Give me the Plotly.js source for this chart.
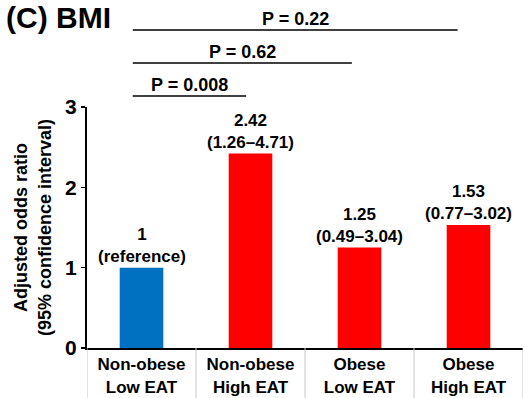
<!DOCTYPE html>
<html><head><meta charset="utf-8">
<script src="https://cdn.plot.ly/plotly-3.0.1.min.js"></script>
<style>body{margin:0;background:#fff}#c{width:524px;height:398px}</style>
</head><body><div id="c"></div>
<script>
const categories = ["Non-obese<br>Low EAT", "Non-obese<br>High EAT", "Obese<br>Low EAT", "Obese<br>High EAT"];
const oddsRatios = [1, 2.42, 1.25, 1.53];
const barLabels = ["1<br>(reference)", "2.42<br>(1.26–4.71)", "1.25<br>(0.49–3.04)", "1.53<br>(0.77–3.02)"];
const barColors = ["#0070C0", "#FF0000", "#FF0000", "#FF0000"];
const pLabels = ["P = 0.008", "P = 0.62", "P = 0.22"];
const pEnds = [0.96, 1.93, 2.9];
const pLevels = [1.0456, 1.1826, 1.3195];
const yTicks = [0, 1, 2, 3];

const F = "Arial, 'Liberation Sans', sans-serif";
const idx = categories.map((_, i) => i);

const shapes = [];
const annotations = [];
pLabels.forEach((t, i) => {
  shapes.push({type: "line", xref: "x", yref: "paper", x0: -0.08, x1: pEnds[i], y0: pLevels[i], y1: pLevels[i],
    line: {color: "#000", width: 1.3}});
  annotations.push({xref: "x", yref: "paper", x: (-0.08 + pEnds[i]) / 2, y: pLevels[i], yanchor: "bottom", yshift: -1,
    text: "<b>" + t + "</b>", showarrow: false, font: {family: F, size: 18, color: "#000"}});
});
for (let k = 0; k <= categories.length; k++) {
  shapes.push({type: "line", xref: "x", yref: "paper", x0: k - 0.5, x1: k - 0.5, y0: 0, y1: -0.21,
    line: {color: "#c8c8c8", width: 1}});
}
idx.forEach(i => {
  annotations.push({xref: "x", yref: "y", x: i, y: oddsRatios[i], yanchor: "bottom", yshift: 0,
    text: "<b>" + barLabels[i] + "</b>", showarrow: false, font: {family: F, size: 17, color: "#000"}});
});
annotations.push({xref: "paper", yref: "paper", x: -0.19, xanchor: "left", y: 1.37, yanchor: "middle",
  text: "<b>(C) BMI</b>", showarrow: false, font: {family: F, size: 30, color: "#000"}});

Plotly.newPlot("c", [{
  type: "bar", x: idx, y: oddsRatios, width: 0.4,
  marker: {color: barColors, line: {width: 0}}, hoverinfo: "none"
}], {
  width: 524, height: 398,
  margin: {l: 87, r: 1, t: 107, b: 50},
  paper_bgcolor: "#fff", plot_bgcolor: "#fff",
  showlegend: false,
  font: {family: F, color: "#000"},
  xaxis: {
    range: [-0.5, 3.5], tickvals: idx, ticktext: categories.map(c => "<b>" + c.replace("<br>", "</b><br><b>") + "</b>"),
    showline: true, linecolor: "#000", linewidth: 2, ticks: "", showgrid: false, zeroline: false,
    tickfont: {family: F, size: 17, color: "#000"}, fixedrange: true
  },
  yaxis: {
    range: [0, 3], tickvals: yTicks, ticktext: yTicks.map(v => "<b>" + v + "</b>"),
    showline: true, linecolor: "#000", linewidth: 2, ticks: "outside", ticklen: 4, tickwidth: 1.5, tickcolor: "#000",
    showgrid: false, zeroline: false, tickfont: {family: F, size: 21, color: "#000"},
    title: {text: "<b>Adjusted odds ratio<br>(95% confidence interval)</b>", font: {family: F, size: 18, color: "#000"}, standoff: 9},
    fixedrange: true
  },
  shapes: shapes, annotations: annotations
}, {staticPlot: true});
</script></body></html>
